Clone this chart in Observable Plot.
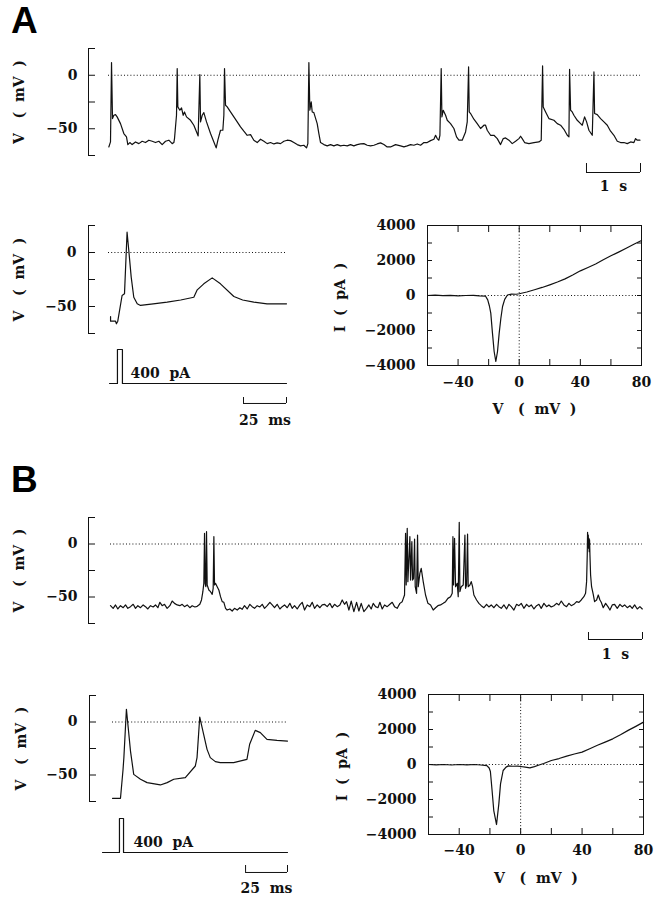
<!DOCTYPE html>
<html><head><meta charset="utf-8">
<script src="https://cdn.jsdelivr.net/npm/d3@7"></script>
<script src="https://cdn.jsdelivr.net/npm/@observablehq/plot@0.6"></script>
<style>
body{margin:0;background:#fff;}
#fig{position:relative;width:658px;height:900px;background:#fff;overflow:hidden;}
.letter{position:absolute;font-family:"Liberation Sans",Arial,sans-serif;font-weight:bold;font-size:37px;line-height:1;color:#000;}
</style></head><body><div id="fig"></div>
<script>
// ---------- DATA ----------
const panelLetters = ["A", "B"];
const vDomain = [-75, 25];
const vTicks = [-75, -50, -25, 0, 25];
const vLabelTicks = [-50, 0];
const ivVDomain = [-60, 80];
const ivIDomain = [-4000, 4000];
const ivVMinor = [-40, -20, 0, 20, 40, 60];
const ivVLabels = [-40, 0, 40, 80];
const ivIMinor = [-3000, -2000, -1000, 0, 1000, 2000, 3000];
const ivILabels = [-4000, -2000, 0, 2000, 4000];
const vAxisTitle = "V\u00a0\u00a0\u00a0(\u00a0\u00a0mV\u00a0\u00a0)";
const iAxisTitle = "I\u00a0\u00a0(\u00a0\u00a0pA\u00a0\u00a0)";
const stimLabel = "400\u00a0\u00a0pA";
const barSecLabel = "1\u00a0\u00a0s";
const barMsLabel = "25\u00a0\u00a0ms";

// Panel A, long trace: [time (s), V (mV)]
const traceALong = [[0.006,-67.0],[0.037,-62.3],[0.056,11.8],[0.074,-40.5],[0.099,-37.4],[0.130,-36.8],[0.160,-38.9],[0.222,-45.2],[0.284,-54.5],[0.333,-57.6],[0.358,-64.8],[0.395,-62.9],[0.438,-64.8],[0.500,-62.3],[0.562,-63.9],[0.623,-61.7],[0.685,-62.9],[0.747,-60.7],[0.809,-61.7],[0.870,-62.9],[0.932,-61.7],[0.994,-64.8],[1.056,-61.7],[1.117,-60.7],[1.179,-63.9],[1.210,-62.9],
[1.222,-59.2],[1.259,-37.4],[1.272,6.2],[1.284,-29.6],[1.321,-32.7],[1.352,-30.5],[1.383,-37.4],[1.407,-34.3],[1.444,-38.9],[1.519,-42.1],[1.580,-46.7],[1.642,-54.5],[1.660,-56.7],[1.691,0.6],[1.704,-43.6],[1.735,-37.4],[1.765,-34.9],[1.815,-43.6],[1.889,-54.5],[1.951,-62.3],[1.994,-67.9],[2.025,-60.7],[2.074,-51.4],[2.117,-51.4],[2.136,-37.4],[2.148,6.2],[2.167,-28.0],[2.198,-29.6],[2.259,-34.3],[2.321,-38.9],[2.383,-43.6],[2.444,-48.3],[2.506,-52.3],[2.568,-56.1],[2.630,-55.5],[2.691,-60.7],[2.753,-62.9],[2.815,-59.8],[2.877,-61.7],[2.938,-63.9],[3.000,-62.9],[3.062,-64.2],[3.123,-63.2],[3.185,-63.9],[3.247,-61.7],[3.309,-60.7],[3.370,-61.1],[3.432,-62.9],[3.494,-64.8],[3.556,-66.0],[3.617,-65.4],[3.667,-67.9],[3.691,-63.9],[3.710,11.8],[3.728,-32.7],[3.753,-24.9],[3.772,-34.3],[3.802,-34.9],[3.864,-45.2],[3.895,-54.5],[3.926,-62.9],[3.988,-64.8],[4.049,-66.0],[4.111,-64.8],[4.173,-66.0],[4.235,-64.8],[4.296,-66.0],[4.358,-65.4],[4.420,-66.0],[4.481,-64.8],[4.543,-66.0],[4.605,-64.8],[4.667,-64.2],[4.728,-63.9],[4.790,-65.4],
[4.852,-66.0],[4.914,-65.4],[4.975,-64.2],[5.037,-63.2],[5.099,-64.8],[5.160,-67.0],[5.222,-67.0],[5.315,-64.8],[5.407,-66.0],[5.469,-67.0],[5.531,-66.0],[5.593,-64.8],[5.654,-65.4],[5.716,-64.2],[5.778,-65.4],[5.840,-62.9],[5.901,-62.9],[5.963,-61.1],[6.025,-59.8],[6.056,-56.1],[6.086,-59.2],[6.117,-60.7],[6.136,-56.1],[6.160,6.2],[6.173,-38.9],[6.198,-32.7],[6.241,-37.4],[6.272,-42.1],[6.333,-45.2],[6.395,-49.8],[6.444,-57.6],[6.488,-60.7],[6.549,-60.7],[6.611,-53.0],[6.642,-43.6],[6.667,7.8],[6.679,-34.3],[6.704,-35.8],[6.765,-41.1],[6.827,-45.2],[6.889,-49.8],[6.951,-46.7],[6.981,-46.7],[7.012,-51.4],[7.074,-56.1],[7.136,-56.1],[7.198,-59.2],[7.259,-64.8],[7.309,-59.2],[7.352,-58.6],[7.414,-60.7],[7.475,-63.9],[7.537,-61.7],[7.599,-59.2],[7.630,-57.0],[7.660,-59.2],[7.704,-62.9],[7.784,-63.9],[7.877,-62.9],[7.969,-62.3],[8.012,-60.7],[8.037,8.7],[8.049,-29.6],[8.093,-34.3],[8.154,-40.5],[8.247,-42.1],[8.309,-45.2],[8.370,-46.7],[8.432,-50.5],[8.494,-56.1],[8.525,-57.6],[8.537,5.6],[8.556,-32.7],[8.586,-34.3],[8.617,-37.4],[8.679,-42.1],[8.741,-45.2],[8.772,-46.7],[8.815,-38.9],[8.852,-43.6],[8.895,-51.4],[8.957,-56.1],[8.988,3.1],[9.000,-35.8],[9.049,-36.8],[9.111,-40.5],[9.173,-43.6],[9.235,-46.7],[9.296,-52.3],[9.358,-56.1],[9.420,-61.7],[9.481,-62.9],[9.543,-62.9],[9.605,-63.9],[9.667,-62.3],[9.728,-62.9],[9.759,-59.2],[9.790,-60.7],[9.840,-60.7]];

// Panel A, single response: [time (ms), V (mV)]
const traceAShort = [[1.2,-59.3],[1.2,-63.6],[4.1,-63.6],[4.6,-66],[5.4,-63.6],[7.9,-39.8],[9.3,-38.3],[10.8,18.8],[11.8,1.9],[13.2,-22.8],[14.7,-41.4],[16.7,-47.5],[18.6,-49],[26,-47.5],[34.1,-46],[42,-44],[49.6,-41.4],[51.6,-34.6],[55.4,-29],[60.3,-23.5],[65.1,-29],[72.9,-40.7],[78,-44],[84.5,-46],[92.2,-47.5],[103.5,-47.5]];
// Stimulus A: [time (ms), I (pA)]
const stimA = [[0.6,0],[5.2,0],[5.2,400],[8.1,400],[8.1,0],[103.5,0]];
// Panel A I-V: [V (mV), I (pA)]
const ivA = [[-60,0],[-55,20],[-50,-10],[-45,10],[-40,-20],[-35,0],[-30,10],[-26,-20],[-22,-40],[-20.6,-250],[-19.5,-600],[-18.6,-1006],[-17.5,-2150],[-16.4,-3200],[-15.3,-3771],[-14.2,-3200],[-13.1,-2150],[-12,-1300],[-10.9,-630],[-9.5,-220],[-7.7,30],[-5,80],[-2,70],[0,100],[5,200],[10,330],[15,460],[20,610],[25,770],[30,950],[35,1170],[40,1410],[45,1600],[50,1800],[55,2040],[60,2267],[65,2480],[70,2700],[75,2930],[80,3143]];

// Panel B, long trace: [time (s), V (mV)]
const traceBLong = [[0,-58.2],[0.049,-60.7],[0.093,-57.5],[0.136,-61.3],[0.185,-58.2],[0.235,-60.1],[0.278,-57.5],[0.321,-60.7],[0.370,-59.1],[0.420,-56.9],[0.463,-60.7],[0.506,-58.2],[0.556,-60.1],[0.605,-57.5],[0.648,-59.1],[0.691,-61.3],[0.741,-58.2],[0.790,-59.4],[0.833,-57.5],[0.877,-60.1],[0.914,-55.0],[0.957,-58.2],[1.000,-56.9],[1.049,-60.7],[1.099,-58.2],[1.142,-53.8],[1.185,-56.0],[1.235,-57.5],[1.284,-58.2],[1.327,-56.9],[1.370,-59.1],[1.420,-57.5],[1.469,-60.1],[1.512,-58.2],[1.562,-59.4],[1.605,-58.8],[1.654,-56.9],[1.685,-52.8],[1.710,-45.0],[1.728,-37.1],[1.741,10.1],[1.753,-37.1],[1.765,-40.3],[1.778,11.6],[1.790,-38.7],[1.821,-43.4],[1.852,-45.0],[1.883,-47.5],[1.901,-41.8],[1.914,6.9],[1.926,-38.7],[1.944,-37.1],[1.975,-40.3],[2.006,-43.4],[2.037,-49.7],[2.068,-54.4],[2.099,-55.0],[2.130,-60.7],[2.160,-62.3],[2.210,-61.3],[2.253,-63.2],[2.296,-60.7],[2.346,-62.3],[2.395,-60.1],[2.438,-61.6],[2.481,-58.2],[2.531,-61.3],[2.580,-56.9],[2.623,-59.1],[2.667,-60.7],[2.716,-58.2],[2.765,-59.4],[2.809,-56.9],[2.852,-60.7],[2.901,-58.2],[2.951,-55.0],[2.994,-57.5],[3.037,-60.1],[3.086,-56.9],[3.136,-61.3],[3.179,-59.1],[3.222,-57.5],[3.272,-60.1],[3.321,-56.0],[3.364,-60.7],[3.407,-58.2],[3.457,-61.3],[3.506,-57.5],[3.549,-55.0],[3.593,-62.3],[3.642,-57.5],[3.691,-59.1],[3.735,-55.0],[3.778,-60.7],[3.827,-57.5],[3.877,-60.1],[3.920,-57.5],[3.963,-56.9],[4.012,-59.1],[4.062,-56.0],[4.105,-60.1],[4.148,-56.9],[4.198,-59.1],[4.247,-57.5],[4.290,-52.8],[4.333,-56.9],[4.370,-54.4],[4.414,-62.3],[4.457,-53.8],[4.506,-63.8],[4.556,-55.0],[4.599,-63.2],[4.642,-56.0],[4.691,-63.8],[4.741,-60.7],[4.784,-57.5],[4.827,-61.3],[4.864,-56.0],[4.907,-59.1],
[4.951,-60.1],[4.988,-55.0],[5.031,-61.3],[5.074,-57.5],[5.123,-59.1],[5.173,-56.9],[5.216,-55.0],[5.259,-59.1],[5.309,-60.7],[5.358,-56.0],[5.401,-54.4],[5.444,-48.1],[5.463,10.1],[5.475,-38.7],[5.494,14.8],[5.506,-35.5],[5.543,6.9],[5.556,-34.0],[5.580,2.2],[5.593,-34.0],[5.611,-32.4],[5.630,4.7],[5.642,-40.3],[5.667,-46.5],[5.685,8.5],[5.698,-40.3],[5.728,-27.7],[5.753,-23.0],[5.790,-35.5],[5.833,-48.1],[5.877,-56.0],[5.926,-57.5],[5.975,-62.3],[6.019,-60.1],[6.062,-58.2],[6.111,-57.5],[6.160,-56.0],[6.204,-54.4],[6.247,-51.3],[6.296,-49.7],[6.327,-46.5],[6.340,6.9],[6.352,-38.7],[6.370,5.3],[6.389,-40.3],[6.420,-37.1],[6.438,-49.7],[6.457,20.4],[6.469,-45.0],[6.494,-40.3],[6.531,-38.7],[6.562,8.5],[6.574,-41.8],[6.593,-38.7],[6.611,9.4],[6.623,-40.3],[6.654,-38.7],[6.679,-35.5],[6.704,-40.3],[6.728,-48.1],[6.778,-52.8],[6.821,-56.0],[6.864,-58.2],[6.914,-60.1],[6.963,-56.9],[7.006,-59.4],[7.049,-57.5],[7.099,-60.1],[7.148,-56.9],[7.191,-59.1],[7.235,-60.7],[7.284,-57.5],[7.333,-61.3],[7.377,-56.9],[7.420,-59.1],[7.469,-62.3],[7.519,-56.9],[7.562,-58.2],[7.605,-56.0],[7.654,-60.7],[7.704,-56.9],[7.747,-59.1],[7.790,-57.5],[7.840,-61.3],[7.889,-58.2],[7.932,-56.9],[7.975,-60.7],[8.025,-56.0],[8.074,-59.1],[8.117,-57.5],[8.160,-59.4],[8.210,-58.2],[8.259,-56.0],[8.302,-57.5],[8.346,-53.8],[8.395,-57.5],[8.444,-59.1],[8.488,-56.0],[8.531,-58.2],[8.580,-56.9],[8.630,-54.4],[8.673,-55.0],[8.716,-52.8],[8.765,-49.7],[8.796,-46.5],[8.815,-35.5],[8.827,-10.4],[8.833,11.0],[8.840,-2.5],[8.846,8.5],[8.852,-4.1],[8.858,5.3],[8.864,-7.2],[8.870,3.8],[8.877,-10.4],[8.889,-29.2],[8.907,-40.3],[8.938,-47.5],[8.963,-54.4],[9.000,-52.8],[9.031,-48.1],[9.062,-52.8],[9.086,-55.0],[9.123,-60.1],[9.167,-56.0],[9.210,-59.1],[9.247,-62.3],[9.290,-57.5],[9.333,-56.9],[9.383,-60.7],[9.432,-56.9],[9.475,-59.1],[9.519,-57.5],[9.568,-60.1],[9.617,-58.2],[9.660,-60.7],[9.704,-57.5],[9.753,-61.3],[9.802,-59.1],[9.846,-61.3]];

// Panel B, single response: [time (ms), V (mV)]
const traceBShort = [[0,-72],[4.7,-72],[6.2,-45],[6.7,-33.6],[8.2,12],[10.6,-27.4],[12.5,-49.4],[16.5,-54],[20.4,-57.2],[28.2,-59.4],[32.2,-57.2],[36.1,-54],[42.9,-52.5],[48.8,-41.5],[49.8,-33.6],[51.4,4.7],[53.7,-11.6],[55.7,-25.8],[57.6,-33.6],[60.6,-37.4],[63.5,-38.4],[71.4,-38.4],[79.2,-35.2],[80.8,-21],[84.1,-7.9],[87.1,-10],[91,-16.4],[96.9,-17.3],[103.1,-18]];
// Stimulus B: [time (ms), I (pA)]
const stimB = [[-5.9,0],[4.1,0],[4.1,400],[6.5,400],[6.5,0],[103.1,0]];
// Panel B I-V: [V (mV), I (pA)]
const ivB = [[-60,0],[-55,-20],[-50,0],[-45,-30],[-40,0],[-35,-20],[-30,0],[-26,-30],[-22,-60],[-20.5,-200],[-19.7,-400],[-18.6,-1486],[-17.5,-2630],[-15.7,-3430],[-14.2,-2248],[-13.1,-1105],[-11.4,-343],[-9.5,-150],[-8,-80],[-5,-100],[-2,-90],[0,-114],[3,-150],[6,-190],[9,-120],[12,-30],[15,60],[20,229],[25,340],[30,480],[35,600],[40,705],[45,900],[50,1100],[55,1280],[60,1467],[65,1700],[70,1950],[75,2180],[80,2420]];

// ---------- DRAWING ----------
const fig = document.getElementById("fig");
const INK = "#111";
const STYLE = {fontFamily: '"DejaVu Serif", serif', fontSize: "14px", fontWeight: "bold", background: "transparent", color: INK, overflow: "visible", maxWidth: "none"};
const fmt = d => d < 0 ? "\u2212" + Math.abs(d) : String(d);
const DOT = "1,2.2";

function place(svg, top) {
  svg.style.position = "absolute";
  svg.style.left = "0px";
  svg.style.top = top + "px";
  fig.appendChild(svg);
}

function vTrace(c) {
  const data = c.data.map(([t, v]) => ({t, v}));
  const shift = c.axisPx - c.ml;
  const b = c.bar;
  return Plot.plot({
    width: 658, height: c.height, marginTop: c.mt, marginBottom: c.mb, marginLeft: c.ml, marginRight: c.mr,
    style: STYLE,
    x: {domain: c.xDomain, axis: null, label: null},
    y: {domain: vDomain, axis: null, label: null},
    marks: [
      Plot.ruleX([c.xDomain[0]], {y1: vDomain[0], y2: vDomain[1], dx: shift, stroke: INK}),
      Plot.axisY({ticks: vTicks, tickSize: 7, dx: shift + 7, tickPadding: c.pad, tickFormat: d => vLabelTicks.includes(d) ? fmt(d) : "", label: null}),
      Plot.ruleY([0], {strokeDasharray: DOT, stroke: INK}),
      Plot.line(data, {x: "t", y: "v", stroke: INK, strokeWidth: 1.2}),
      Plot.text([vAxisTitle], {text: d => d, frameAnchor: "left", textAnchor: "middle", rotate: -90, dx: c.titlePx - c.ml}),
      ...(b ? [
        Plot.ruleY([b.y], {x1: b.t1, x2: b.t2, stroke: INK}),
        Plot.ruleX([b.t1, b.t2], {y1: b.y, y2: b.yTick, stroke: INK}),
        Plot.text([b.label], {text: d => d, x: (b.t1 + b.t2) / 2, y: b.yText})
      ] : [])
    ]
  });
}

function stimPlot(c) {
  const data = c.data.map(([t, i]) => ({t, i}));
  const b = c.bar;
  return Plot.plot({
    width: 658, height: c.height, marginTop: c.mt, marginBottom: c.mb, marginLeft: c.ml, marginRight: c.mr,
    style: STYLE,
    x: {domain: c.xDomain, axis: null, label: null},
    y: {domain: [0, 400], axis: null, label: null},
    marks: [
      Plot.line(data, {x: "t", y: "i", stroke: INK, strokeWidth: 1.2}),
      Plot.text([stimLabel], {text: d => d, x: c.labelT, y: c.labelI, textAnchor: "start"}),
      Plot.ruleY([b.y], {x1: b.t1, x2: b.t2, stroke: INK}),
      Plot.ruleX([b.t1, b.t2], {y1: b.y, y2: b.yTick, stroke: INK}),
      Plot.text([b.label], {text: d => d, x: (b.t1 + b.t2) / 2, y: b.yText})
    ]
  });
}

function ivPlot(c) {
  const data = c.data.map(([v, i]) => ({v, i}));
  return Plot.plot({
    width: 658, height: c.height, marginTop: c.mt, marginBottom: c.mb, marginLeft: c.ml, marginRight: c.mr,
    style: STYLE,
    x: {domain: ivVDomain, axis: null, label: null},
    y: {domain: ivIDomain, axis: null, label: null},
    marks: [
      Plot.ruleY([0], {strokeDasharray: DOT, stroke: INK}),
      Plot.ruleX([0], {strokeDasharray: DOT, stroke: INK}),
      Plot.axisX({anchor: "bottom", ticks: ivVMinor, tickSize: 6, dy: -6, tickFormat: () => "", label: null}),
      Plot.axisX({anchor: "top", ticks: ivVMinor, tickSize: 6, dy: 6, tickFormat: () => "", label: null}),
      Plot.axisY({anchor: "left", ticks: ivIMinor, tickSize: 5, dx: 5, tickFormat: () => "", label: null}),
      Plot.axisY({anchor: "right", ticks: ivIMinor, tickSize: 5, dx: -5, tickFormat: () => "", label: null}),
      Plot.axisX({anchor: "bottom", ticks: ivVLabels, tickSize: 0, tickPadding: c.xPad, tickFormat: fmt, label: null}),
      Plot.axisY({anchor: "left", ticks: ivILabels, tickSize: 0, tickPadding: c.yPad, tickFormat: fmt, label: null}),
      Plot.line(data, {x: "v", y: "i", stroke: INK, strokeWidth: 1.2}),
      Plot.frame({stroke: INK}),
      Plot.text([vAxisTitle], {text: d => d, frameAnchor: "bottom", dy: c.xTitleDy}),
      Plot.text([iAxisTitle], {text: d => d, frameAnchor: "left", textAnchor: "middle", rotate: -90, dx: c.yTitleDx, dy: 2})
    ]
  });
}

// Panel letters
[[panelLetters[0], 11, 2], [panelLetters[1], 11, 461]].forEach(([t, x, y]) => {
  const d = document.createElement("div");
  d.className = "letter"; d.textContent = t;
  d.style.left = x + "px"; d.style.top = y + "px";
  fig.appendChild(d);
});

// Panel A
place(vTrace({data: traceALong, height: 200, mt: 48, mb: 45, ml: 108, mr: 18, axisPx: 88, pad: 11, titlePx: 19,
  xDomain: [0, 9.85], bar: {t1: 8.85, t2: 9.85, y: -90.9, yTick: -82.5, yText: -103.9, label: barSecLabel}}), 0);
place(vTrace({data: traceAShort, height: 140, mt: 25, mb: 7, ml: 108, mr: 372, axisPx: 88, pad: 12, titlePx: 19,
  xDomain: [0, 103.5]}), 200);
place(stimPlot({data: stimA, height: 100, mt: 9, mb: 57, ml: 108, mr: 372, xDomain: [0, 103.5], labelT: 12.8, labelI: 118,
  bar: {t1: 78.5, t2: 103.5, y: -235, yTick: -165, yText: -435, label: barMsLabel}}), 340);
place(ivPlot({data: ivA, height: 240, mt: 25, mb: 75, ml: 427, mr: 17, xPad: 12, yPad: 12, xTitleDy: 48, yTitleDx: -87}), 200);

// Panel B
place(vTrace({data: traceBLong, height: 210, mt: 57, mb: 47, ml: 110, mr: 16, axisPx: 88, pad: 11, titlePx: 19,
  xDomain: [0, 9.85], bar: {t1: 8.85, t2: 9.85, y: -90.1, yTick: -83.5, yText: -104.2, label: barSecLabel}}), 460);
place(vTrace({data: traceBShort, height: 140, mt: 25, mb: 9, ml: 112, mr: 371, axisPx: 89, pad: 12, titlePx: 21,
  xDomain: [0, 103.1]}), 670);
place(stimPlot({data: stimB, height: 90, mt: 8, mb: 48, ml: 112, mr: 371, xDomain: [0, 103.1], labelT: 12.4, labelI: 118,
  bar: {t1: 78.4, t2: 103.1, y: -235, yTick: -153, yText: -424, label: barMsLabel}}), 810);
place(ivPlot({data: ivB, height: 230, mt: 24, mb: 66, ml: 428, mr: 15, xPad: 11, yPad: 12, xTitleDy: 48, yTitleDx: -86}), 670);
</script></body></html>
